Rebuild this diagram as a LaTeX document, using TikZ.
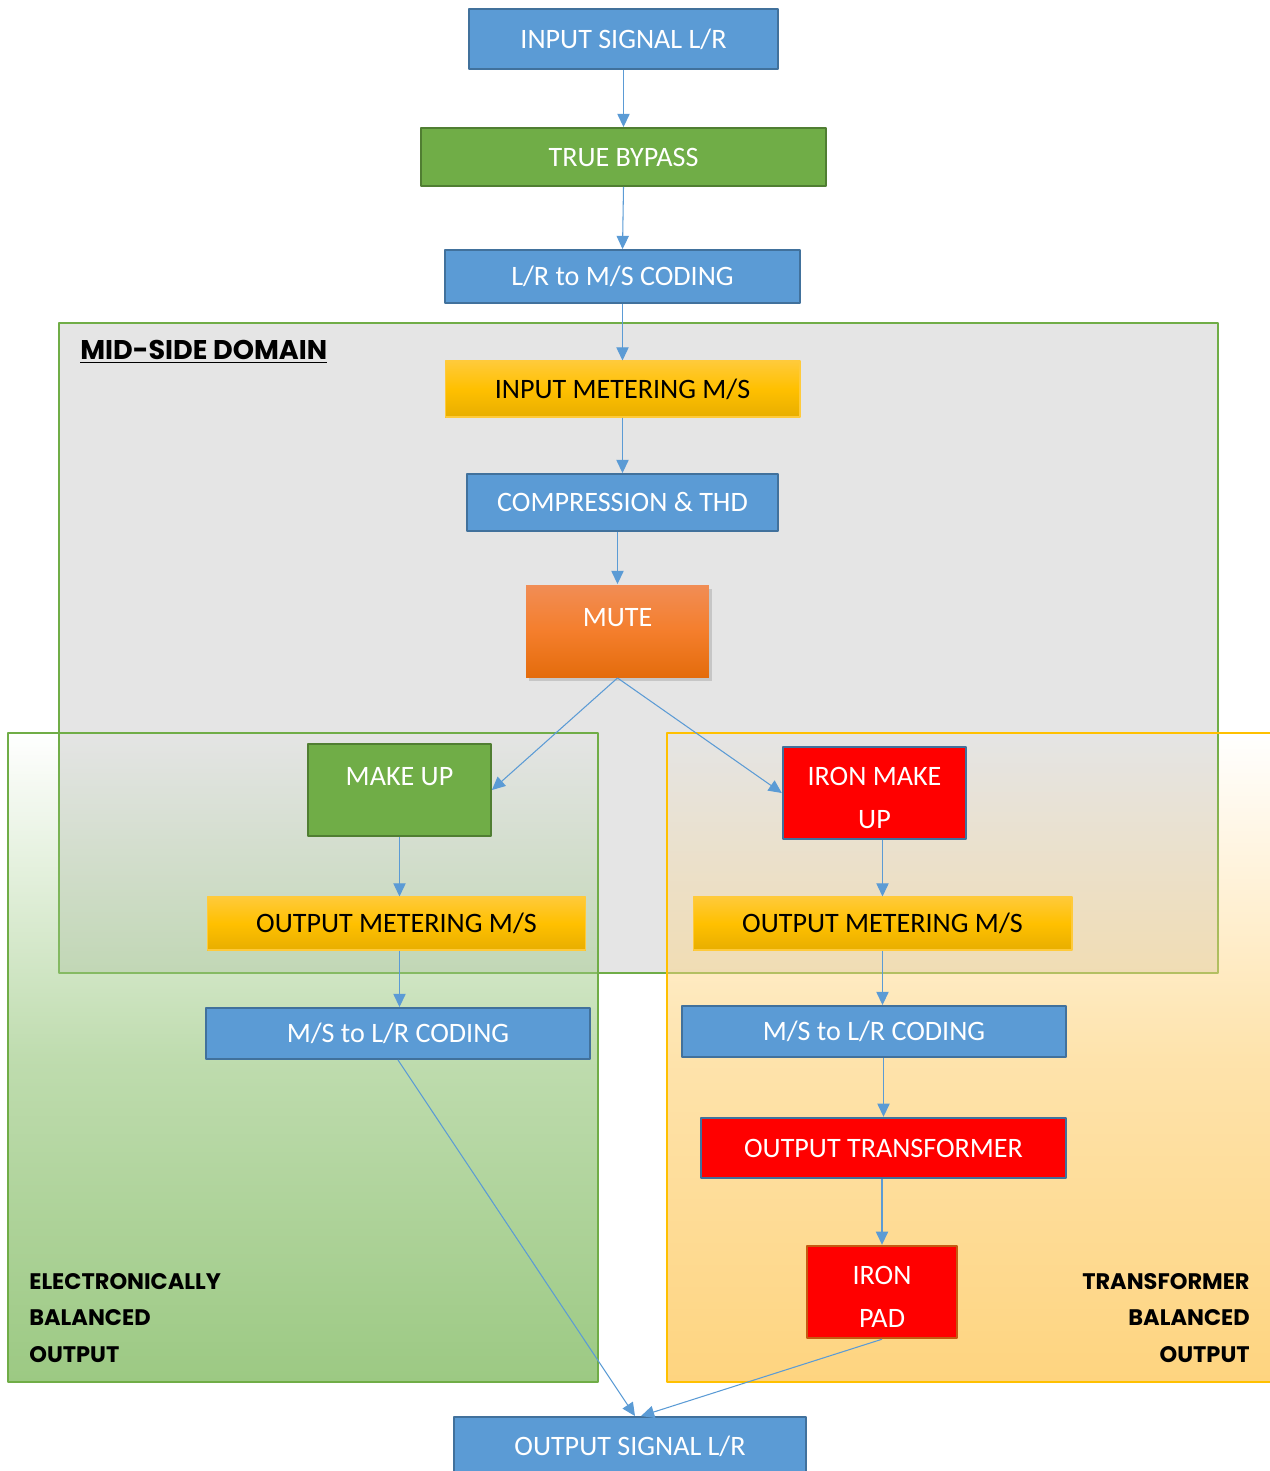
\documentclass[tikz,border=0pt]{standalone}
\usepackage{fontspec}
\setmainfont{Carlito}
\newfontfamily\headfont{Poppins}
\usetikzlibrary{arrows.meta,shadows,fadings}
\tikzfading[name=regfade, top color=transparent!100, bottom color=transparent!0, middle color=transparent!35]
\begin{document}
\begin{tikzpicture}[x=0.02cm,y=-0.02cm,line join=round,>={Triangle[length=7.5pt,width=7pt]},font=\fontsize{16}{24.4}\selectfont]
		\definecolor{boxblue}{HTML}{5B9BD5}
		\definecolor{edgeblue}{HTML}{41719C}
		\definecolor{boxgreen}{HTML}{70AD47}
		\definecolor{edgegreen}{HTML}{507E32}
		\definecolor{goldtop}{HTML}{FFCA3A}
		\definecolor{goldmid}{HTML}{FFC000}
		\definecolor{goldbot}{HTML}{E8AE00}
		\definecolor{mutetop}{HTML}{F18D55}
		\definecolor{mutemid}{HTML}{F47E2C}
		\definecolor{mutebot}{HTML}{E46C0C}
		\definecolor{domaingray}{HTML}{E5E5E5}
		\definecolor{regiongreen}{HTML}{9CC983}
		\definecolor{regionorange}{HTML}{FED47F}
		\definecolor{padedge}{HTML}{C55A11}
		\tikzset{
			box/.style={draw,line width=1.1pt,inner sep=0pt,align=center,text=white},
			oneline/.style={text height=10.3pt,text depth=0pt},
			toptext/.style={text height=10.3pt,text depth=15.8pt},
			bluebox/.style={box,fill=boxblue,draw=edgeblue},
			greenbox/.style={box,fill=boxgreen,draw=edgegreen},
			goldbox/.style={box,draw=goldtop,line width=0.6pt,text=black,top color=goldtop,bottom color=goldbot,middle color=goldmid},
			redbox/.style={box,fill=red,draw=edgeblue,line width=1.4pt},
			link/.style={->,draw=boxblue,line width=0.6pt},
			sidelabel/.style={font=\headfont\bfseries\fontsize{12.8}{21}\selectfont,inner sep=0pt}
		}
		\def\lift{\rule{0pt}{16pt}}
		\useasboundingbox (0,0) rectangle (1270,1471);
		
		% mid-side domain and the two output sides
		\draw[boxgreen,line width=1.2pt,fill=domaingray] (59,323) rectangle (1218,973);
		\fill[regiongreen,path fading=regfade] (8,733) rectangle (598,1382);
		\draw[boxgreen,line width=0.9pt] (8,733) rectangle (598,1382);
		\fill[regionorange,path fading=regfade] (667,733) rectangle (1280,1382);
		\draw[goldmid,line width=0.9pt] (667,733) rectangle (1280,1382);
		
		\node[anchor=west,inner sep=0pt,font=\headfont\bfseries\fontsize{15.4}{17}\selectfont] (msd) at (80,352) {\underline{MID-SIDE DOMAIN}};
		\node[sidelabel,anchor=west,align=left] (ebo) at (29,1318) {ELECTRONICALLY\\BALANCED\\OUTPUT};
		\node[sidelabel,anchor=east,align=right] (tbo) at (1250,1318) {TRANSFORMER\\BALANCED\\OUTPUT};
		
		\node[bluebox,oneline,minimum width=6.18cm,minimum height=1.2cm] (insig) at (623.5,39) {INPUT SIGNAL L/R};
		\node[greenbox,oneline,minimum width=8.1cm,minimum height=1.16cm] (bypass) at (623.5,157) {TRUE BYPASS};
		\node[bluebox,oneline,minimum width=7.1cm,minimum height=1.06cm] (lrms) at (622.5,276.5) {L/R to M/S CODING};
		\node[goldbox,oneline,minimum width=7.1cm,minimum height=1.12cm] (inmeter) at (622.5,389) {INPUT METERING M/S};
		\node[bluebox,oneline,minimum width=6.22cm,minimum height=1.14cm] (comp) at (622.5,502.5) {COMPRESSION \& THD};
		\node[box,toptext,draw=none,minimum width=3.66cm,minimum height=1.84cm,top color=mutetop,bottom color=mutebot,middle color=mutemid,
			drop shadow={shadow xshift=1.5pt,shadow yshift=-2pt,opacity=0.3}] (mute) at (617.5,631) {MUTE};
		
		\node[greenbox,toptext,minimum width=3.66cm,minimum height=1.84cm] (makeup) at (399.5,790) {MAKE UP};
		\node[goldbox,oneline,minimum width=7.58cm,minimum height=1.06cm] (outmeterL) at (396.5,923.5) {OUTPUT METERING M/S};
		\node[bluebox,oneline,minimum width=7.68cm,minimum height=1.02cm] (mslrL) at (398,1033.5) {M/S to L/R CODING};
		
		\node[redbox,minimum width=3.66cm,minimum height=1.84cm] (ironmake) at (874.5,793) {\lift IRON MAKE\\UP};
		\node[goldbox,oneline,minimum width=7.58cm,minimum height=1.06cm] (outmeterR) at (882.5,923.5) {OUTPUT METERING M/S};
		\node[bluebox,oneline,minimum width=7.68cm,minimum height=1.02cm] (mslrR) at (874,1031.5) {M/S to L/R CODING};
		\node[redbox,oneline,minimum width=7.3cm,minimum height=1.2cm] (outtrans) at (883.5,1148) {OUTPUT TRANSFORMER};
		\node[redbox,draw=padedge,minimum width=3cm,minimum height=1.84cm] (ironpad) at (882,1292) {\lift IRON\\PAD};
		
		\node[bluebox,oneline,minimum width=7.04cm,minimum height=1.16cm] (outsig) at (630,1446) {OUTPUT SIGNAL L/R};
		
		\draw[link] (insig.south) -- (bypass.north);
		\draw[link] (bypass.south) -- (lrms.north);
		\draw[link] (lrms.south) -- (inmeter.north);
		\draw[link] (inmeter.south) -- (comp.north);
		\draw[link] (comp.south -| mute.north) -- (mute.north);
		\draw[link] (mute.south) -- (makeup.east);
		\draw[link] (mute.south) -- (ironmake.west);
		
		\draw[link] (makeup.south) -- (makeup.south |- outmeterL.north);
		\draw[link] (outmeterL.south -| makeup.south) -- (makeup.south |- mslrL.north);
		\draw[link] (mslrL.south) -- ([xshift=0.1cm]outsig.north);
		
		\draw[link] (ironmake.south -| outmeterR.north) -- (outmeterR.north);
		\draw[link] (outmeterR.south) -- (outmeterR.south |- mslrR.north);
		\draw[link] (mslrR.south -| outtrans.north) -- (outtrans.north);
		\draw[link] (outtrans.south -| ironpad.north) -- (ironpad.north);
		\draw[link] (ironpad.south) -- ([xshift=0.22cm]outsig.north);
	\end{tikzpicture}
\end{document}
